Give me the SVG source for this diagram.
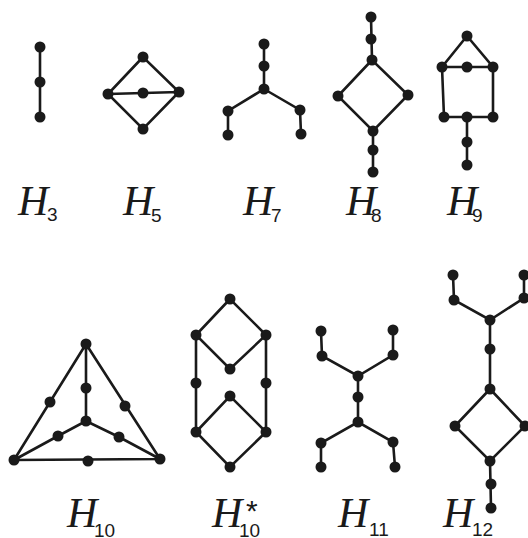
<svg xmlns="http://www.w3.org/2000/svg" width="528" height="538" viewBox="0 0 528 538">
<style>
.e{stroke:#1a1a1a;stroke-width:2.6;fill:none;stroke-linecap:round}
.n circle{fill:#1a1a1a}
.L{font-family:"Liberation Serif",serif;font-style:italic;font-size:42px;fill:#1a1a1a}
.s{font-family:"Liberation Sans",sans-serif;font-size:19px;fill:#1a1a1a}
</style>
<rect width="528" height="538" fill="#fff"/>
<g id="connectors">
<path class="e" d="M40 47V117"/>
<path class="e" d="M143 57L108 94L143 129L179 92Z M108 94L179 92"/>
<path class="e" d="M264 44V89 M264 89L228 111L228 135 M264 89L300 110L301 134"/>
<path class="e" d="M371 17L372 60 M372 60L338 96L373 131L408 95Z M373 131V172"/>
<path class="e" d="M467 36L442 67L493 67Z M442 67L444 117L493 117L493 67 M467 117V165"/>
<path class="e" d="M86 344L14 460L160 459Z M86 344V421 M14 460L58 436L86 421L119 437L160 459"/>
<path class="e" d="M230 299L196 335L230 369L266 335Z M196 335V432 M266 335V432 M196 432L230 396L266 432L230 467Z"/>
<path class="e" d="M321 331L322 356L358 376L393 355L393 330 M358 376V422 M321 467L321 443L358 422L393 442L395 467"/>
<path class="e" d="M453 275L454 300L490 320L524 298L524 275 M490 320V389 M490 389L455 426L490 461L525 426Z M490 461L491 508"/>
</g>
<g id="H3" class="n"><circle cx="40" cy="47" r="5.5"/><circle cx="40" cy="82" r="5.5"/><circle cx="40" cy="117" r="5.5"/></g>
<g id="H5" class="n"><circle cx="143" cy="57" r="5.5"/><circle cx="108" cy="94" r="5.5"/><circle cx="143" cy="93" r="5.5"/><circle cx="179" cy="92" r="5.5"/><circle cx="143" cy="129" r="5.5"/></g>
<g id="H7" class="n"><circle cx="264" cy="44" r="5.5"/><circle cx="264" cy="66" r="5.5"/><circle cx="264" cy="89" r="5.5"/><circle cx="228" cy="111" r="5.5"/><circle cx="228" cy="135" r="5.5"/><circle cx="300" cy="110" r="5.5"/><circle cx="301" cy="134" r="5.5"/></g>
<g id="H8" class="n"><circle cx="371" cy="17" r="5.5"/><circle cx="371" cy="39" r="5.5"/><circle cx="372" cy="60" r="5.5"/><circle cx="338" cy="96" r="5.5"/><circle cx="408" cy="95" r="5.5"/><circle cx="373" cy="131" r="5.5"/><circle cx="373" cy="150" r="5.5"/><circle cx="373" cy="172" r="5.5"/></g>
<g id="H9" class="n"><circle cx="467" cy="36" r="5.5"/><circle cx="442" cy="67" r="5.5"/><circle cx="467" cy="67" r="5.5"/><circle cx="493" cy="67" r="5.5"/><circle cx="444" cy="117" r="5.5"/><circle cx="467" cy="117" r="5.5"/><circle cx="493" cy="117" r="5.5"/><circle cx="467" cy="142" r="5.5"/><circle cx="467" cy="165" r="5.5"/></g>
<g id="H10" class="n"><circle cx="86" cy="344" r="5.5"/><circle cx="86" cy="388" r="5.5"/><circle cx="86" cy="421" r="5.5"/><circle cx="14" cy="460" r="5.5"/><circle cx="160" cy="459" r="5.5"/><circle cx="50" cy="402" r="5.5"/><circle cx="125" cy="406" r="5.5"/><circle cx="58" cy="436" r="5.5"/><circle cx="119" cy="437" r="5.5"/><circle cx="88" cy="461" r="5.5"/></g>
<g id="H10star" class="n"><circle cx="230" cy="299" r="5.5"/><circle cx="196" cy="335" r="5.5"/><circle cx="266" cy="335" r="5.5"/><circle cx="230" cy="369" r="5.5"/><circle cx="196" cy="383" r="5.5"/><circle cx="266" cy="383" r="5.5"/><circle cx="230" cy="396" r="5.5"/><circle cx="196" cy="432" r="5.5"/><circle cx="266" cy="432" r="5.5"/><circle cx="230" cy="467" r="5.5"/></g>
<g id="H11" class="n"><circle cx="321" cy="331" r="5.5"/><circle cx="322" cy="356" r="5.5"/><circle cx="393" cy="330" r="5.5"/><circle cx="393" cy="355" r="5.5"/><circle cx="358" cy="376" r="5.5"/><circle cx="358" cy="397" r="5.5"/><circle cx="358" cy="422" r="5.5"/><circle cx="321" cy="443" r="5.5"/><circle cx="321" cy="467" r="5.5"/><circle cx="393" cy="442" r="5.5"/><circle cx="395" cy="467" r="5.5"/></g>
<g id="H12" class="n"><circle cx="453" cy="275" r="5.5"/><circle cx="454" cy="300" r="5.5"/><circle cx="524" cy="275" r="5.5"/><circle cx="524" cy="298" r="5.5"/><circle cx="490" cy="320" r="5.5"/><circle cx="490" cy="349" r="5.5"/><circle cx="490" cy="389" r="5.5"/><circle cx="455" cy="426" r="5.5"/><circle cx="525" cy="426" r="5.5"/><circle cx="490" cy="461" r="5.5"/><circle cx="491" cy="484" r="5.5"/><circle cx="491" cy="508" r="5.5"/></g>
<g id="labels">
<text class="L" x="18" y="215">H</text><text class="s" x="47" y="221">3</text>
<text class="L" x="123" y="215">H</text><text class="s" x="151" y="222">5</text>
<text class="L" x="243" y="215">H</text><text class="s" x="271" y="222">7</text>
<text class="L" x="346" y="215">H</text><text class="s" x="371" y="222">8</text>
<text class="L" x="447" y="215">H</text><text class="s" x="472" y="222">9</text>
<text class="L" x="67" y="527">H</text><text class="s" x="94" y="537">10</text>
<text class="L" x="212" y="527">H</text><text class="s" x="239" y="537">10</text><text class="s" x="246" y="521" style="font-size:30px">*</text>
<text class="L" x="338" y="527">H</text><text class="s" x="369" y="536">11</text>
<text class="L" x="443" y="527">H</text><text class="s" x="472" y="536">12</text>
</g>
</svg>
